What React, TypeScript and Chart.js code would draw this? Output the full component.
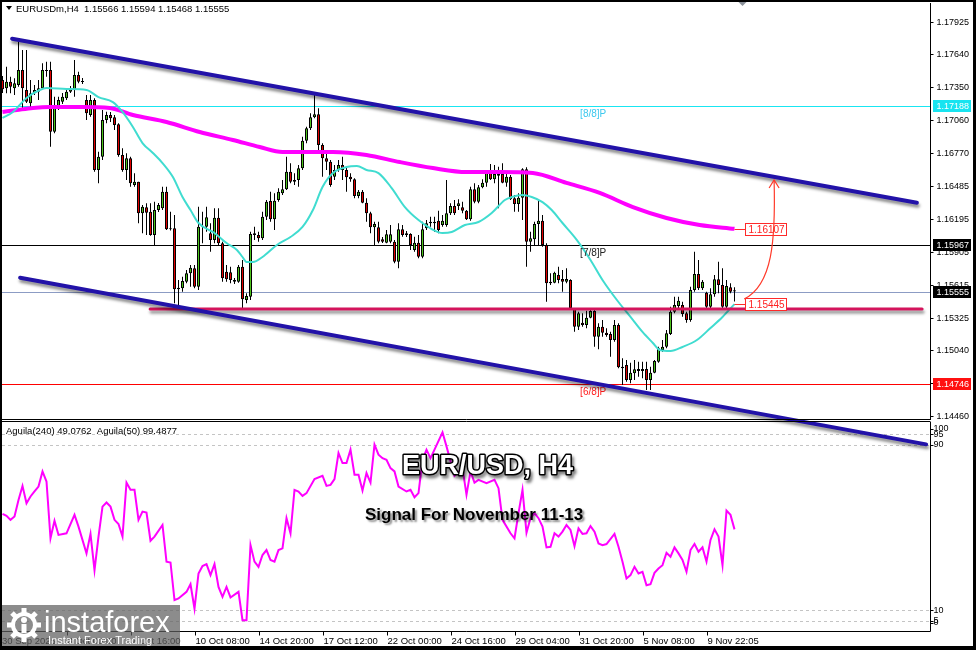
import React, { useEffect, useRef } from "react";
import { Chart, registerables } from "chart.js";
Chart.register(...registerables);

// ---------- DATA (EURUSD H4) ----------
const opens = [
  1.17415, 1.17342, 1.174, 1.17342, 1.17371, 1.17503, 1.17327, 1.1721, 1.17298, 1.17312,
  1.17342, 1.17494, 1.17503, 1.1696, 1.17166, 1.17224, 1.17254, 1.17312, 1.17333, 1.17459,
  1.174, 1.17239, 1.17107, 1.17239, 1.16624, 1.16741, 1.17063, 1.17107, 1.17087, 1.17025,
  1.16756, 1.16624, 1.16727, 1.16492, 1.16521, 1.16243, 1.16296, 1.16257, 1.16052, 1.16272,
  1.16287, 1.16433, 1.16102, 1.16111, 1.15575, 1.15584, 1.15642, 1.15716, 1.1576, 1.15598,
  1.16125, 1.16125, 1.16067, 1.16008, 1.16204, 1.15979, 1.1573, 1.15725, 1.15657, 1.15642,
  1.15774, 1.15481, 1.1551, 1.16067, 1.16052, 1.16023, 1.16213, 1.16351, 1.1619, 1.1636,
  1.16419, 1.16454, 1.16609, 1.16521, 1.16536, 1.16639, 1.16881, 1.1699, 1.17087, 1.17113,
  1.16843, 1.16727, 1.16697, 1.16565, 1.16624, 1.16668, 1.16624, 1.16565, 1.16542, 1.16395,
  1.16433, 1.16336, 1.16243, 1.1612, 1.1612, 1.16015, 1.15985, 1.15993, 1.15993, 1.15818,
  1.16102, 1.16052, 1.16061, 1.15921, 1.15985, 1.15862, 1.16111, 1.16155, 1.16155, 1.16178,
  1.1614, 1.1614, 1.16243, 1.16307, 1.16307, 1.16296, 1.16266, 1.1619, 1.16454, 1.16345,
  1.16472, 1.16512, 1.166, 1.16542, 1.16589, 1.16589, 1.16512, 1.16565, 1.16375, 1.16325,
  1.1638, 1.1663, 1.15993, 1.16015, 1.16149, 1.16178, 1.15964, 1.15628, 1.15633, 1.15701,
  1.15666, 1.15642, 1.15657, 1.15408, 1.15246, 1.15281, 1.15261, 1.15325, 1.15384, 1.15158,
  1.15246, 1.15193, 1.15182, 1.15129, 1.15261, 1.14895, 1.1491, 1.14778, 1.14837, 1.14857,
  1.14857, 1.14875, 1.14778, 1.14842, 1.14939, 1.15041, 1.1507, 1.15182, 1.15378, 1.15428,
  1.15437, 1.15364, 1.15305, 1.15569, 1.1571, 1.15584, 1.15545, 1.15422, 1.15531, 1.15663,
  1.15613, 1.15422, 1.15593, 1.15566,
];
const highs = [
  1.1745, 1.17532, 1.17444, 1.1743, 1.17751, 1.17679, 1.17679, 1.17415, 1.17371, 1.17415,
  1.17562, 1.17576, 1.17576, 1.17268, 1.17268, 1.17301, 1.17344, 1.17362, 1.17591, 1.17488,
  1.17432, 1.17283, 1.17283, 1.17254, 1.16785, 1.17151, 1.17136, 1.17134, 1.17107, 1.17034,
  1.16814, 1.1677, 1.16741, 1.16595, 1.16521, 1.16316, 1.16331, 1.16331, 1.16345, 1.16334,
  1.16477, 1.16477, 1.16257, 1.16228, 1.15657, 1.15686, 1.15745, 1.15789, 1.15789, 1.16301,
  1.16257, 1.16301, 1.16155, 1.16287, 1.16287, 1.15993, 1.15789, 1.15774, 1.15674, 1.15789,
  1.15833, 1.1554, 1.16081, 1.16125, 1.16081, 1.16257, 1.1636, 1.16433, 1.16419, 1.16463,
  1.16536, 1.16741, 1.16683, 1.16595, 1.16668, 1.16916, 1.17004, 1.17122, 1.17283, 1.17166,
  1.16858, 1.1677, 1.16712, 1.16668, 1.16712, 1.16741, 1.16653, 1.16595, 1.16551, 1.16448,
  1.16448, 1.16375, 1.16257, 1.16169, 1.16169, 1.16035, 1.16096, 1.1614, 1.16008, 1.16155,
  1.1614, 1.16087, 1.16067, 1.16037, 1.16052, 1.16169, 1.16184, 1.16213, 1.16213, 1.16266,
  1.16228, 1.16536, 1.16331, 1.1636, 1.16366, 1.16345, 1.16272, 1.16477, 1.16507, 1.16492,
  1.16542, 1.16624, 1.16676, 1.16668, 1.16653, 1.16683, 1.16595, 1.1658, 1.16404, 1.16419,
  1.16639, 1.16647, 1.16081, 1.16169, 1.16366, 1.16228, 1.15979, 1.15716, 1.1573, 1.15774,
  1.15745, 1.1576, 1.15663, 1.15408, 1.15378, 1.15364, 1.15387, 1.15408, 1.15393, 1.15276,
  1.15305, 1.15232, 1.15202, 1.15305, 1.15276, 1.14968, 1.14954, 1.1493, 1.14954, 1.14939,
  1.14939, 1.14939, 1.14895, 1.14954, 1.1507, 1.15129, 1.15217, 1.15422, 1.1551, 1.1551,
  1.15466, 1.15378, 1.15598, 1.15906, 1.15833, 1.15657, 1.15554, 1.15584, 1.15701, 1.15818,
  1.1576, 1.15657, 1.15628, 1.15594,
];
const lows = [
  1.17301, 1.17298, 1.17298, 1.17283, 1.17356, 1.17151, 1.17213, 1.17151, 1.17283, 1.17239,
  1.17327, 1.17444, 1.16829, 1.16946, 1.17151, 1.17204, 1.17239, 1.17301, 1.17268, 1.17386,
  1.1738, 1.17063, 1.17092, 1.16609, 1.16507, 1.16712, 1.17034, 1.17046, 1.16975, 1.16741,
  1.16609, 1.16536, 1.16477, 1.16477, 1.16155, 1.16067, 1.16052, 1.16045, 1.15964, 1.16255,
  1.16272, 1.16096, 1.16092, 1.15452, 1.15437, 1.15554, 1.15628, 1.15598, 1.15584, 1.15569,
  1.15979, 1.16081, 1.15906, 1.15979, 1.15964, 1.15642, 1.15642, 1.15628, 1.15622, 1.15633,
  1.15408, 1.15452, 1.15481, 1.16008, 1.15993, 1.16008, 1.16184, 1.16169, 1.16096, 1.16345,
  1.16404, 1.16448, 1.16507, 1.16492, 1.16477, 1.16624, 1.16858, 1.16975, 1.17078, 1.16793,
  1.16565, 1.16624, 1.16477, 1.16536, 1.16609, 1.16536, 1.16433, 1.16521, 1.16375, 1.16375,
  1.16331, 1.16169, 1.16067, 1.15964, 1.15979, 1.15982, 1.15979, 1.15979, 1.15803, 1.1576,
  1.16037, 1.16035, 1.15921, 1.15906, 1.15847, 1.15847, 1.16096, 1.16125, 1.16081, 1.16067,
  1.16125, 1.16125, 1.16228, 1.16228, 1.16272, 1.16243, 1.16184, 1.16178, 1.16331, 1.16331,
  1.16463, 1.16477, 1.16536, 1.16507, 1.16287, 1.16507, 1.16477, 1.1636, 1.16257, 1.16257,
  1.16184, 1.15774, 1.15906, 1.15964, 1.15964, 1.1595, 1.15466, 1.15613, 1.15628, 1.15628,
  1.15554, 1.15628, 1.15393, 1.15202, 1.15217, 1.15246, 1.15232, 1.1532, 1.1507, 1.15048,
  1.15158, 1.15158, 1.14983, 1.15114, 1.14881, 1.14734, 1.14763, 1.14749, 1.14778, 1.14807,
  1.14793, 1.1469, 1.1469, 1.14837, 1.1493, 1.15027, 1.15056, 1.15173, 1.15364, 1.15393,
  1.15334, 1.15281, 1.1529, 1.15554, 1.15569, 1.15569, 1.15408, 1.15408, 1.1551, 1.1554,
  1.15408, 1.15408, 1.1554, 1.15468,
];
const closes = [
  1.17333, 1.174, 1.17356, 1.17386, 1.17503, 1.17342, 1.17224, 1.17298, 1.17327, 1.17342,
  1.17503, 1.17503, 1.1696, 1.1718, 1.17239, 1.17268, 1.17312, 1.17333, 1.17459, 1.174,
  1.17397, 1.17122, 1.17239, 1.16624, 1.16741, 1.17063, 1.17107, 1.17078, 1.17019, 1.16756,
  1.16624, 1.16727, 1.16507, 1.16521, 1.16243, 1.16301, 1.16248, 1.16052, 1.16272, 1.16316,
  1.16433, 1.16102, 1.16105, 1.15575, 1.15589, 1.15648, 1.15716, 1.15765, 1.15598, 1.16125,
  1.16131, 1.16208, 1.16008, 1.16204, 1.15979, 1.15672, 1.15663, 1.15657, 1.15642, 1.15774,
  1.15487, 1.15516, 1.16061, 1.16052, 1.16023, 1.16213, 1.16345, 1.1619, 1.16354, 1.16433,
  1.16454, 1.16609, 1.16521, 1.16536, 1.16639, 1.16881, 1.1699, 1.17087, 1.17113, 1.16843,
  1.16727, 1.16697, 1.16492, 1.16624, 1.16668, 1.16624, 1.1656, 1.16542, 1.16395, 1.16433,
  1.16336, 1.16243, 1.1612, 1.16149, 1.15993, 1.15993, 1.16059, 1.16059, 1.15818, 1.16102,
  1.16052, 1.16067, 1.15964, 1.15985, 1.15862, 1.16102, 1.16155, 1.16169, 1.16169, 1.16096,
  1.16178, 1.16243, 1.16307, 1.16243, 1.16331, 1.16266, 1.1619, 1.16454, 1.16345, 1.16472,
  1.16512, 1.166, 1.16542, 1.16589, 1.16574, 1.16512, 1.16565, 1.16366, 1.16325, 1.1638,
  1.1663, 1.15993, 1.16023, 1.16149, 1.16178, 1.15964, 1.15628, 1.15642, 1.15721, 1.15657,
  1.15642, 1.15666, 1.15408, 1.15246, 1.15364, 1.15261, 1.15325, 1.15384, 1.15158, 1.15246,
  1.15193, 1.15173, 1.15129, 1.15261, 1.1489, 1.14881, 1.14778, 1.14842, 1.14872, 1.14875,
  1.14875, 1.14778, 1.14842, 1.14945, 1.15056, 1.1507, 1.15188, 1.15378, 1.15437, 1.15475,
  1.15358, 1.15305, 1.15569, 1.1571, 1.15584, 1.15642, 1.15422, 1.15531, 1.15663, 1.15613,
  1.15422, 1.15604, 1.15554, 1.15555,
];

// Moving averages (bar index, price)
const maFastIndex = [0, 2.6, 6, 9.3, 11, 16, 21, 24, 27.6, 30, 32.6, 35, 37.6, 40, 42.6, 45, 47, 49, 53, 56, 58.6, 60, 61, 62.6, 65, 68.6, 72, 75, 77.6, 80, 82.6, 86, 88.6, 91, 94, 97.3, 100.6, 104, 107.3, 110, 112.3, 115.6, 119, 122.3, 125.6, 127.3, 130, 132.3, 135, 137.3, 140, 143.6, 147, 150, 153.6, 157, 160, 162.6, 164.3, 167, 170, 173.6, 177, 180, 183];
const maFastValue = [1.17081, 1.17134, 1.17257, 1.17327, 1.17345, 1.17336, 1.17327, 1.17265, 1.17221, 1.17134, 1.17002, 1.16861, 1.16773, 1.16685, 1.16562, 1.16386, 1.16272, 1.16158, 1.1607, 1.15982, 1.15921, 1.15859, 1.15815, 1.15815, 1.15859, 1.15965, 1.16035, 1.16123, 1.16272, 1.16474, 1.16597, 1.1665, 1.16659, 1.16624, 1.16597, 1.16465, 1.16298, 1.16184, 1.16105, 1.1607, 1.16079, 1.1614, 1.16167, 1.16246, 1.1636, 1.16386, 1.16404, 1.16386, 1.16342, 1.16272, 1.16158, 1.16008, 1.15833, 1.15657, 1.15481, 1.15332, 1.152, 1.15103, 1.15042, 1.15033, 1.15068, 1.15129, 1.15235, 1.15332, 1.15445];
const maSlowIndex = [0, 3.6, 7.6, 11.8, 20, 26.8, 32.6, 41, 49.3, 57.6, 64.3, 70, 78.6, 82.6, 91, 99.3, 107.6, 116, 124.3, 132.6, 141, 149.3, 157.6, 166, 174.3, 183];
const maSlowValue = [1.17134, 1.17151, 1.17169, 1.17177, 1.17177, 1.17169, 1.17107, 1.17046, 1.16958, 1.16888, 1.16826, 1.16782, 1.16782, 1.16782, 1.16756, 1.16694, 1.16641, 1.16606, 1.16606, 1.16597, 1.1651, 1.16422, 1.16298, 1.16202, 1.1614, 1.16107];

// Aguila(240) oscillator (bar index, value)
const aguilaIndex = [0, 1, 2, 3, 4, 5, 6, 7, 8, 9, 10, 11, 12, 13, 14, 16, 18, 19, 21, 22, 23, 24, 25, 26, 27, 28, 29, 30, 31, 32, 33, 34, 35, 36, 37, 38, 40, 41, 42, 43, 44, 46, 47, 48, 49, 50, 51, 52, 53, 54, 55, 56, 57, 59, 60, 61, 62, 63, 64, 65, 66, 67, 68, 69, 70, 71, 72, 73, 74, 75, 76, 78, 80, 81, 82, 83, 84, 85, 86, 87, 88, 89, 90, 91, 92, 93, 94, 95, 96, 97, 98, 99, 101, 102, 103, 104, 105, 106, 107, 108, 110, 111, 113, 115, 116, 117, 118, 119, 121, 123, 124, 125, 127, 128, 129, 130, 131, 132, 133, 134, 135, 136, 137, 138, 139, 140, 141, 142, 143, 144, 145, 146, 147, 148, 149, 150, 151, 153, 154, 155, 156, 157, 158, 159, 160, 161, 162, 163, 164, 165, 166, 167, 168, 169, 170, 171, 172, 173, 174, 175, 176, 177, 178, 179, 180, 181, 182, 183];
const aguilaValue = [56.6, 55.6, 53.7, 55.3, 63.3, 70.1, 61.7, 65, 67.4, 69.8, 77.1, 72.2, 44.8, 53.2, 46.4, 47.2, 56.1, 50.4, 37.5, 46.9, 29.4, 45.6, 60.1, 62.1, 60.1, 53.7, 51.7, 45.6, 71.7, 68.2, 68.2, 53.7, 57.7, 57.2, 43.6, 45.6, 51.2, 33.5, 33.1, 14.9, 15.7, 18.9, 22.6, 10.8, 27.8, 31.4, 32.3, 27, 32.3, 21.3, 16.5, 21.3, 16.2, 18.9, 5.2, 5.2, 41.5, 33.5, 31, 36.7, 39.1, 34.3, 33.5, 39.1, 39.9, 54.5, 47.2, 68.2, 67.4, 65.3, 66.6, 73.4, 75, 70.1, 70.6, 73.4, 86, 81.1, 81.1, 87.6, 75.5, 75.5, 67.9, 76.3, 71.7, 90, 85.2, 83.5, 82.7, 78.7, 77.1, 69.8, 67.4, 68.2, 64.6, 66.6, 82.7, 87.6, 83.5, 87.6, 96, 89.2, 75, 78.7, 65.8, 77.1, 71.7, 73, 71.4, 73, 69, 53.7, 47.2, 44.8, 56.9, 68.2, 47.5, 54.5, 56.9, 54.5, 50.4, 40.4, 40.7, 47.2, 45.6, 48, 51.2, 48.8, 41, 49.6, 46.9, 47.2, 50.7, 48, 42.3, 41.5, 42, 46.9, 40.7, 33.5, 25.4, 27, 31, 27.8, 28.6, 22.1, 22.6, 28.1, 30.2, 31.8, 37.8, 35.9, 40.4, 37.5, 34.3, 28.6, 39.1, 42, 38.3, 40.4, 33.5, 44, 49.1, 45.6, 31.8, 58.2, 56.1, 49.1];

// Axis ticks
const priceTicks = [1.17925, 1.1764, 1.1735, 1.1706, 1.1677, 1.16485, 1.16195, 1.15905, 1.15615, 1.15325, 1.1504, 1.1475, 1.1446];
const priceTickLabels = ["1.17925", "1.17640", "1.17350", "1.17060", "1.16770", "1.16485", "1.16195", "1.15905", "1.15615", "1.15325", "1.15040", "1.14750", "1.14460"];
const indicatorTicks = [100, 95, 90, 10, 5, 0];
const indicatorDashed = [95, 90, 10, 5];
const timeTickIndex = [0, 16, 32, 48, 64, 80, 96, 112, 128, 144, 160, 176];
const timeTickLabels = ["30 Sep 2025", "3 Oct 00:00", "7 Oct 16:00", "10 Oct 08:00", "14 Oct 20:00", "17 Oct 12:00", "22 Oct 00:00", "24 Oct 16:00", "29 Oct 04:00", "31 Oct 20:00", "5 Nov 08:00", "9 Nov 22:05"];

// Chart objects (index, price)
const murreyPrices = [1.17188, 1.15967, 1.14746];
const murreyLabels = ["[8/8]P", "[7/8]P", "[6/8]P"];
const murreyText = ["1.17188", "1.15967", "1.14746"];
const murreyLabelIndex = 144.4;
const bidPrice = 1.15555;
const upperChannel = [[2.4, 1.17778], [228.6, 1.16336]];
const lowerChannel = [[4.4, 1.15677], [230.9, 1.14212]];
const supportLine = [[36.9, 1.15402], [229.9, 1.15402]];
const maEndIndex = 183;
const maBoxIndex = 185.6;
const maBoxPrices = [1.16107, 1.15445];
const maBoxText = ["1.16107", "1.15445"];
const arrowPath = [[185.4, 1.1549], [192.5, 1.15613], [193.3, 1.16008], [192.9, 1.16536]];
const headerText = "EURUSDm,H4  1.15566 1.15594 1.15468 1.15555";
const indicatorHeader = "Aguila(240) 49.0762  Aguila(50) 99.4877";

// view ranges
const X_MIN = -0.125;
const X_MAX = 231.875;
const PRICE_MIN = 1.14426;
const PRICE_MAX = 1.18092;

const GREEN = "#4cc41c";
const RED = "#e00000";
const FONT = '"Liberation Sans", Arial, sans-serif';

const mainPlugin = {
  id: "mainDecor",
  beforeDatasetsDraw(chart: any) {
    const { ctx, chartArea: ca, scales } = chart;
    const y = scales.y;
    ctx.save();
    const colors = ["#19e6f2", "#000000", "#ff0000"];
    murreyPrices.forEach((p, k) => {
      const yy = Math.round(y.getPixelForValue(p)) + 0.5;
      ctx.strokeStyle = colors[k];
      ctx.lineWidth = 1;
      ctx.beginPath();
      ctx.moveTo(ca.left, yy);
      ctx.lineTo(ca.right, yy);
      ctx.stroke();
    });
    const by = Math.round(y.getPixelForValue(bidPrice)) + 0.5;
    ctx.strokeStyle = "#8c9cc4";
    ctx.beginPath();
    ctx.moveTo(ca.left, by);
    ctx.lineTo(ca.right, by);
    ctx.stroke();
    ctx.restore();
  },
  afterDatasetsDraw(chart: any) {
    const { ctx, chartArea: ca, scales } = chart;
    const x = scales.x;
    const y = scales.y;
    const P = (pt: number[]) => [x.getPixelForValue(pt[0]), y.getPixelForValue(pt[1])];
    ctx.save();

    // murrey labels
    const labColors = ["#3cc8ee", "#222222", "#ff1a1a"];
    ctx.font = `10px ${FONT}`;
    ctx.textBaseline = "top";
    ctx.textAlign = "left";
    murreyPrices.forEach((p, k) => {
      ctx.fillStyle = labColors[k];
      ctx.fillText(murreyLabels[k], x.getPixelForValue(murreyLabelIndex), Math.round(y.getPixelForValue(p)) + 3);
    });

    // trend lines with shadow
    const drawLine = (seg: number[][], color: string, width: number) => {
      const a = P(seg[0]);
      const b = P(seg[1]);
      ctx.save();
      ctx.shadowColor = "rgba(0,0,0,0.45)";
      ctx.shadowOffsetX = 1;
      ctx.shadowOffsetY = 3;
      ctx.shadowBlur = 3;
      ctx.strokeStyle = color;
      ctx.lineWidth = width;
      ctx.lineCap = "round";
      ctx.beginPath();
      ctx.moveTo(a[0], a[1]);
      ctx.lineTo(b[0], b[1]);
      ctx.stroke();
      ctx.restore();
    };
    drawLine(supportLine, "#d4145c", 3);
    drawLine(upperChannel, "#2212a8", 4);
    drawLine(lowerChannel, "#2212a8", 4);

    // MA value boxes
    ctx.font = `10px ${FONT}`;
    ctx.textBaseline = "middle";
    maBoxPrices.forEach((p, k) => {
      const yy = Math.round(y.getPixelForValue(p));
      const x0 = x.getPixelForValue(maEndIndex);
      const bx = Math.round(x.getPixelForValue(maBoxIndex)) + 0.5;
      ctx.strokeStyle = "#ff2a2a";
      ctx.lineWidth = 1;
      ctx.beginPath();
      ctx.moveTo(x0, yy + 0.5);
      ctx.lineTo(bx, yy + 0.5);
      ctx.stroke();
      ctx.fillStyle = "#ffffff";
      ctx.fillRect(bx, yy - 6 + 0.5, 41, 12);
      ctx.strokeRect(bx, yy - 6 + 0.5, 41, 12);
      ctx.fillStyle = "#ff2020";
      ctx.fillText(maBoxText[k], bx + 3, yy + 1);
    });

    // curved arrow
    const a0 = P(arrowPath[0]);
    const a1 = P(arrowPath[1]);
    const a2 = P(arrowPath[2]);
    const a3 = P(arrowPath[3]);
    ctx.strokeStyle = "#ff3a2a";
    ctx.lineWidth = 1.2;
    ctx.beginPath();
    ctx.moveTo(a0[0], a0[1]);
    ctx.bezierCurveTo(a1[0], a1[1], a2[0], a2[1], a3[0], a3[1]);
    ctx.stroke();
    ctx.beginPath();
    ctx.moveTo(a3[0] - 5, a3[1] + 8);
    ctx.lineTo(a3[0], a3[1]);
    ctx.lineTo(a3[0] + 5, a3[1] + 8);
    ctx.stroke();

    // right axis
    const axX = Math.round(ca.right) + 0.5;
    ctx.strokeStyle = "#000";
    ctx.lineWidth = 1;
    ctx.beginPath();
    ctx.moveTo(axX, ca.top);
    ctx.lineTo(axX, ca.bottom);
    ctx.stroke();
    ctx.font = `9px ${FONT}`;
    ctx.fillStyle = "#000";
    ctx.textBaseline = "middle";
    priceTicks.forEach((p, k) => {
      const yy = Math.round(y.getPixelForValue(p)) + 0.5;
      ctx.beginPath();
      ctx.moveTo(axX, yy);
      ctx.lineTo(axX + 3, yy);
      ctx.stroke();
      ctx.fillText(priceTickLabels[k], axX + 6, yy + 0.5);
    });
    const axisBox = (p: number, txt: string, bg: string) => {
      const yy = Math.round(y.getPixelForValue(p));
      ctx.fillStyle = bg;
      ctx.fillRect(axX + 2.5, yy - 6, 38, 12);
      ctx.fillStyle = "#ffffff";
      ctx.fillText(txt, axX + 6, yy + 0.5);
    };
    axisBox(murreyPrices[0], murreyText[0], "#18e4f0");
    axisBox(murreyPrices[1], murreyText[1], "#000000");
    axisBox(bidPrice, "1.15555", "#000000");
    axisBox(murreyPrices[2], murreyText[2], "#ff1010");

    // panel separator
    ctx.strokeStyle = "#000";
    ctx.beginPath();
    ctx.moveTo(ca.left, Math.round(ca.bottom) - 0.5);
    ctx.lineTo(axX, Math.round(ca.bottom) - 0.5);
    ctx.moveTo(ca.left, Math.round(ca.bottom) + 1.5);
    ctx.lineTo(axX, Math.round(ca.bottom) + 1.5);
    ctx.stroke();

    // header
    ctx.fillStyle = "#000";
    ctx.beginPath();
    ctx.moveTo(6, 6);
    ctx.lineTo(12, 6);
    ctx.lineTo(9, 10);
    ctx.closePath();
    ctx.fill();
    ctx.font = `9.5px ${FONT}`;
    ctx.textBaseline = "alphabetic";
    ctx.fillText(headerText, 16, 12);

    // shift marker
    ctx.fillStyle = "#8a9099";
    ctx.beginPath();
    const sx = x.getPixelForValue(185);
    ctx.moveTo(sx - 4, 2);
    ctx.lineTo(sx + 4, 2);
    ctx.lineTo(sx, 6);
    ctx.closePath();
    ctx.fill();
    ctx.restore();
  },
};

const indicatorPlugin = {
  id: "indDecor",
  beforeDraw(chart: any) {
    const { ctx, width, height } = chart;
    ctx.save();
    ctx.fillStyle = "#ffffff";
    ctx.fillRect(0, 0, width, height);
    ctx.fillStyle = "#000";
    ctx.fillRect(0, 0, width, 2);
    ctx.fillRect(0, 0, 2, height);
    ctx.fillRect(width - 3, 0, 3, height);
    ctx.fillRect(0, height - 4, width, 4);
    ctx.restore();
  },
  beforeDatasetsDraw(chart: any) {
    const { ctx, chartArea: ca, scales } = chart;
    const y = scales.y;
    ctx.save();
    ctx.strokeStyle = "#c4c4c4";
    ctx.lineWidth = 1;
    ctx.setLineDash([3, 3]);
    indicatorDashed.forEach((v) => {
      const yy = Math.round(y.getPixelForValue(v)) + 0.5;
      ctx.beginPath();
      ctx.moveTo(ca.left, yy);
      ctx.lineTo(ca.right, yy);
      ctx.stroke();
    });
    ctx.restore();
  },
  afterDatasetsDraw(chart: any) {
    const { ctx, chartArea: ca, scales } = chart;
    const x = scales.x;
    const y = scales.y;
    ctx.save();
    const axX = Math.round(ca.right) + 0.5;
    const botY = Math.round(ca.bottom) + 0.5;
    ctx.strokeStyle = "#000";
    ctx.lineWidth = 1;
    ctx.beginPath();
    ctx.moveTo(axX, 422);
    ctx.lineTo(axX, botY);
    ctx.moveTo(ca.left, botY);
    ctx.lineTo(axX, botY);
    ctx.stroke();

    // indicator y labels
    ctx.font = `9px ${FONT}`;
    ctx.fillStyle = "#000";
    ctx.textBaseline = "middle";
    indicatorTicks.forEach((v) => {
      let yy = y.getPixelForValue(v);
      yy = Math.min(Math.max(yy, ca.top + 5), ca.bottom - 8);
      ctx.beginPath();
      ctx.moveTo(axX, Math.round(yy) + 0.5);
      ctx.lineTo(axX + 3, Math.round(yy) + 0.5);
      ctx.stroke();
      ctx.fillText(String(v), axX + 3, yy);
    });

    // time labels
    ctx.font = `9.5px ${FONT}`;
    ctx.textBaseline = "alphabetic";
    timeTickIndex.forEach((idx, k) => {
      const xx = Math.round(x.getPixelForValue(idx)) + 0.5;
      if (k > 0) {
        ctx.beginPath();
        ctx.moveTo(xx, botY);
        ctx.lineTo(xx, botY + 4);
        ctx.stroke();
      }
      ctx.fillText(timeTickLabels[k], k === 0 ? 2 : xx, 644);
    });

    // indicator title
    ctx.font = `9.5px ${FONT}`;
    ctx.fillText(indicatorHeader, 6, 434);

    // big titles
    ctx.font = `bold 27px ${FONT}`;
    ctx.textBaseline = "alphabetic";
    ctx.save();
    ctx.shadowColor = "rgba(0,0,0,0.5)";
    ctx.shadowOffsetX = 2;
    ctx.shadowOffsetY = 3;
    ctx.shadowBlur = 3;
    ctx.lineWidth = 3;
    ctx.strokeStyle = "#000";
    ctx.lineJoin = "round";
    ctx.strokeText("EUR/USD, H4", 402, 474);
    ctx.restore();
    ctx.fillStyle = "#ffffff";
    ctx.fillText("EUR/USD, H4", 402, 474);

    ctx.save();
    ctx.font = `bold 17px ${FONT}`;
    ctx.shadowColor = "rgba(0,0,0,0.45)";
    ctx.shadowOffsetX = 2;
    ctx.shadowOffsetY = 2;
    ctx.shadowBlur = 2;
    ctx.fillStyle = "#000";
    ctx.fillText("Signal For November 11-13", 365, 520);
    ctx.restore();

    // watermark logo
    ctx.fillStyle = "rgba(95,95,95,0.72)";
    ctx.fillRect(2, 605, 178, 41);
    ctx.strokeStyle = "#ffffff";
    ctx.fillStyle = "#ffffff";
    ctx.lineWidth = 4;
    ctx.beginPath();
    ctx.arc(24, 625, 11, 0, Math.PI * 2);
    ctx.stroke();
    for (let t = 0; t < 8; t++) {
      const ang = (t * Math.PI) / 4;
      ctx.save();
      ctx.translate(24, 625);
      ctx.rotate(ang);
      ctx.fillRect(-2.5, -17, 5, 5);
      ctx.restore();
    }
    ctx.beginPath();
    ctx.arc(24, 620, 3, 0, Math.PI * 2);
    ctx.fill();
    ctx.fillRect(21.5, 624, 5, 9);
    ctx.font = `29px ${FONT}`;
    ctx.fillText("instaforex", 44, 632);
    ctx.font = `11px ${FONT}`;
    ctx.fillText("Instant Forex Trading", 48, 644);
    ctx.restore();
  },
};

export default function App() {
  const mainRef = useRef<HTMLCanvasElement>(null);
  const indRef = useRef<HTMLCanvasElement>(null);

  useEffect(() => {
    document.body.style.margin = "0";
    const idx = opens.map((_, i) => i);
    const ind = new Chart(indRef.current as HTMLCanvasElement, {
      type: "line",
      data: {
        datasets: [
          {
            data: aguilaIndex.map((v, k) => ({ x: v, y: aguilaValue[k] })),
            borderColor: "#ff00ff",
            borderWidth: 2,
            pointRadius: 0,
            tension: 0,
          },
        ],
      },
      options: {
        animation: false,
        responsive: false,
        devicePixelRatio: 1,
        events: [],
        layout: { padding: { left: 2, right: 46, top: 424, bottom: 19 } },
        scales: {
          x: { type: "linear", display: false, min: X_MIN, max: X_MAX },
          y: { type: "linear", display: false, min: 0, max: 100 },
        },
        plugins: { legend: { display: false }, tooltip: { enabled: false } },
      },
      plugins: [indicatorPlugin],
    } as any);

    const main = new Chart(mainRef.current as HTMLCanvasElement, {
      type: "bar",
      data: {
        datasets: [
          {
            type: "bar",
            data: idx.map((i) => ({ x: i, y: [lows[i], highs[i]] })),
            backgroundColor: "#000",
            barThickness: 1,
            grouped: false,
            borderWidth: 0,
            inflateAmount: 0,
            order: 4,
          },
          {
            type: "bar",
            data: idx.map((i) => ({ x: i, y: [opens[i], closes[i]] })),
            backgroundColor: idx.map((i) => (closes[i] >= opens[i] ? GREEN : RED)),
            borderColor: "#000",
            borderWidth: 1,
            borderSkipped: false,
            barThickness: 3,
            minBarLength: 1,
            grouped: false,
            inflateAmount: 0,
            order: 3,
          },
          {
            type: "line",
            data: maSlowIndex.map((v, k) => ({ x: v, y: maSlowValue[k] })),
            borderColor: "#ff00ff",
            borderWidth: 4,
            pointRadius: 0,
            cubicInterpolationMode: "monotone",
            order: 2,
          },
          {
            type: "line",
            data: maFastIndex.map((v, k) => ({ x: v, y: maFastValue[k] })),
            borderColor: "#40dcd0",
            borderWidth: 2,
            pointRadius: 0,
            cubicInterpolationMode: "monotone",
            order: 1,
          },
        ],
      },
      options: {
        animation: false,
        responsive: false,
        devicePixelRatio: 1,
        events: [],
        layout: { padding: { left: 2, right: 46, top: 3, bottom: 230 } },
        scales: {
          x: { type: "linear", display: false, min: X_MIN, max: X_MAX, offset: false },
          y: { type: "linear", display: false, min: PRICE_MIN, max: PRICE_MAX, beginAtZero: false },
        },
        plugins: { legend: { display: false }, tooltip: { enabled: false } },
      },
      plugins: [mainPlugin],
    } as any);

    return () => {
      main.destroy();
      ind.destroy();
    };
  }, []);

  return (
    <div style={{ position: "fixed", left: 0, top: 0, width: 976, height: 650, background: "#fff" }}>
      <canvas ref={indRef} width={976} height={650} style={{ position: "absolute", left: 0, top: 0, zIndex: 1 }} />
      <canvas ref={mainRef} width={976} height={650} style={{ position: "absolute", left: 0, top: 0, zIndex: 2 }} />
    </div>
  );
}
